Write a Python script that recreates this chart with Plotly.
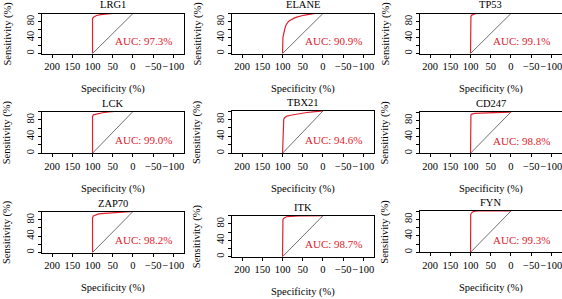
import plotly.graph_objects as go

W, H = 562, 299

genes = ["LRG1", "ELANE", "TP53", "LCK", "TBX21", "CD247", "ZAP70", "ITK", "FYN"]
auc_text = ["AUC: 97.3%", "AUC: 90.9%", "AUC: 99.1%", "AUC: 99.0%", "AUC: 94.6%",
            "AUC: 98.8%", "AUC: 98.2%", "AUC: 98.7%", "AUC: 99.3%"]

lrg1_spec = [100, 100, 97, 90, 80, 65, 50, 0]
lrg1_sens = [0, 88, 91, 95, 97, 99, 100, 100]

elane_spec = [100, 100, 99, 98, 97, 96, 95, 93, 91, 89, 86, 83, 80, 75, 70, 65, 60, 55, 50, 45, 40, 35, 30, 20, 10, 0]
elane_sens = [0, 30, 40, 45, 50, 56, 62, 67, 72, 76, 79, 82, 84, 87, 89, 91, 93, 94, 95, 96, 97, 98, 99, 100, 100, 100]

tp53_spec = [100, 100, 99, 97, 93, 88, 80, 0]
tp53_sens = [0, 88, 93, 96, 98.5, 99.5, 100, 100]

lck_spec = [100, 100, 98, 90, 75, 60, 45, 0]
lck_sens = [0, 88, 92, 94, 97, 99, 100, 100]

tbx21_spec = [100, 99, 98, 97, 95, 92, 89, 80, 70, 56, 40, 25, 10, 0]
tbx21_sens = [0, 40, 65, 80, 84, 86, 88, 90, 92, 94.5, 96.5, 98, 99.5, 100]

cd247_spec = [100, 100, 99, 97, 90, 75, 50, 25, 0]
cd247_sens = [0, 90, 93, 95, 96.5, 97.5, 98.5, 99.5, 100]

zap70_spec = [100, 100, 98, 92, 85, 70, 56, 40, 25, 0]
zap70_sens = [0, 85, 89, 92, 94, 95.5, 96.5, 98, 100, 100]

itk_spec = [100, 100, 99, 97, 94, 90, 80, 60, 0]
itk_sens = [0, 85, 91, 94, 96, 97.5, 98.5, 99.5, 100]

fyn_spec = [100, 100, 99.5, 98, 96, 93, 88, 80, 0]
fyn_sens = [0, 85, 92, 95, 97, 98.5, 99.5, 100, 100]

roc_spec = [lrg1_spec, elane_spec, tp53_spec, lck_spec, tbx21_spec, cd247_spec, zap70_spec, itk_spec, fyn_spec]
roc_sens = [lrg1_sens, elane_sens, tp53_sens, lck_sens, tbx21_sens, cd247_sens, zap70_sens, itk_sens, fyn_sens]

x_tickvals = [200, 150, 100, 50, 0, -50, -100]
x_ticktext = ["200", "150", "100", "50", "0", "\u221250", "\u2212100"]
y_tickvals = [0, 20, 40, 60, 80, 100]
y_ticktext = ["0", "", "40", "", "80", ""]

# panel boxes in pixels (left, top, bottom)
col_left = [42, 232, 420]
box_w = 141.5
row_tb = [[(13.5, 53.5), (13.5, 53.5), (13.5, 53.5)],
          [(111.5, 153.2), (111.0, 153.2), (112.0, 153.2)],
          [(211.5, 252.5), (215.7, 256.7), (211.0, 252.3)]]

RED = "#E0202C"
FONT = "Liberation Serif"
FS = 10.5

fig = go.Figure()
layout = dict(width=W, height=H, margin=dict(l=0, r=0, t=0, b=0),
              paper_bgcolor="white", plot_bgcolor="white", showlegend=False,
              font=dict(family=FONT, size=FS, color="black"))
annotations = []

for i, g in enumerate(genes):
    r, c = divmod(i, 3)
    left = col_left[c]
    top, bot = row_tb[r][c]
    xa = "xaxis" if i == 0 else f"xaxis{i+1}"
    ya = "yaxis" if i == 0 else f"yaxis{i+1}"
    xr = "x" if i == 0 else f"x{i+1}"
    yr = "y" if i == 0 else f"y{i+1}"
    layout[xa] = dict(domain=[left / W, (left + box_w) / W], anchor=yr,
                      range=[225, -125], tickvals=x_tickvals, ticktext=x_ticktext,
                      tickangle=0, ticklabeloverflow="allow",
                      ticks="outside", ticklen=3, tickwidth=1, tickcolor="black",
                      showline=True, mirror=True, linecolor="black", linewidth=1,
                      showgrid=False, zeroline=False, fixedrange=True,
                      tickfont=dict(family=FONT, size=FS))
    layout[ya] = dict(domain=[1 - bot / H, 1 - top / H], anchor=xr,
                      range=[0, 100], tickvals=y_tickvals, ticktext=y_ticktext,
                      tickangle=-90, ticklabeloverflow="allow",
                      ticks="outside", ticklen=3, tickwidth=1, tickcolor="black",
                      showline=True, mirror=True, linecolor="black", linewidth=1,
                      showgrid=False, zeroline=False, fixedrange=True,
                      tickfont=dict(family=FONT, size=FS))
    # diagonal reference
    fig.add_trace(go.Scatter(x=[100, 0], y=[0, 100], mode="lines",
                             line=dict(color="#707070", width=1),
                             xaxis=xr, yaxis=yr, hoverinfo="skip"))
    fig.add_trace(go.Scatter(x=roc_spec[i], y=roc_sens[i], mode="lines",
                             line=dict(color=RED, width=1.2),
                             xaxis=xr, yaxis=yr))
    annotations.append(dict(x=50, y=50, xref=xr, yref=yr, text=auc_text[i],
                            showarrow=False, xanchor="left", yanchor="top",
                            font=dict(family=FONT, size=11, color=RED)))
    cx = (left + box_w / 2) / W
    annotations.append(dict(x=cx, y=1 - (top - 8.5) / H, xref="paper", yref="paper",
                            text=g, showarrow=False, xanchor="center", yanchor="middle",
                            font=dict(family=FONT, size=FS)))
    annotations.append(dict(x=cx, y=1 - (bot + 35.5) / H, xref="paper", yref="paper",
                            text="Specificity (%)", showarrow=False, xanchor="center",
                            yanchor="middle", font=dict(family=FONT, size=FS)))
    annotations.append(dict(x=(left - 35) / W, y=1 - ((top + bot) / 2) / H,
                            xref="paper", yref="paper", text="Sensitivity (%)",
                            textangle=-90, showarrow=False, xanchor="center",
                            yanchor="middle", font=dict(family=FONT, size=FS)))

layout["annotations"] = annotations
fig.update_layout(**layout)
fig.write_html("out.html", config={"displayModeBar": False},
               post_script="document.body.style.margin='0px';document.body.style.overflow='hidden';")
